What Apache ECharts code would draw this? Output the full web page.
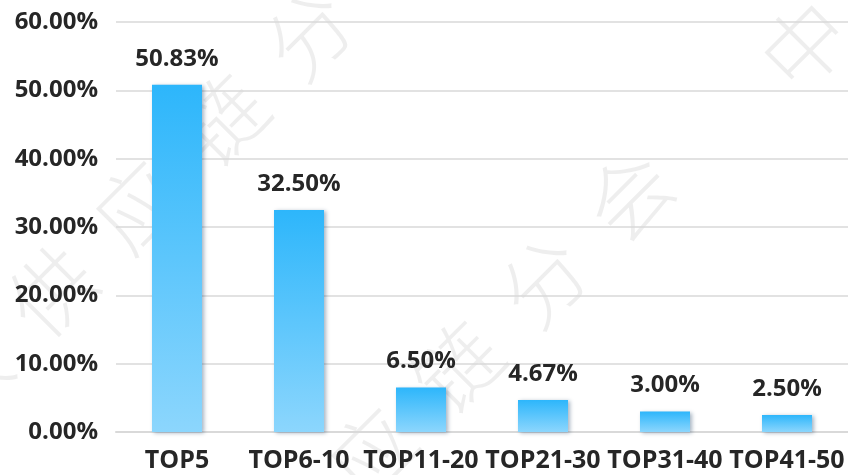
<!DOCTYPE html>
<html>
<head>
<meta charset="utf-8">
<script src="https://cdn.jsdelivr.net/npm/echarts@6/dist/echarts.min.js"></script>
<style>
html,body{margin:0;padding:0;background:#fff;}
#c{width:848px;height:475px;}
</style>
</head>
<body>
<div id="c"></div>
<script>
var categories = ['TOP5', 'TOP6-10', 'TOP11-20', 'TOP21-30', 'TOP31-40', 'TOP41-50'];
var values = [50.83, 32.50, 6.50, 4.67, 3.00, 2.50];
var yTicks = [0, 10, 20, 30, 40, 50, 60];
var watermarkText = '中  物  联  供  应  链  分  会';

var chart = echarts.init(document.getElementById('c'));
var font = '"Open Sans", "Noto Sans", "Noto Sans CJK SC", sans-serif';
var wmStyle = {
  text: watermarkText,
  fill: 'rgba(0,0,0,0.065)',
  font: '300 84px "Noto Sans CJK SC", sans-serif'
};
chart.setOption({
  animation: false,
  backgroundColor: '#fff',
  graphic: [
    {type: 'text', x: -265, y: 548, rotation: Math.PI / 4, z: -10, silent: true, style: wmStyle},
    {type: 'text', x: -30, y: 795, rotation: Math.PI / 4, z: -10, silent: true, style: wmStyle},
    {type: 'text', x: 745, y: 45, rotation: Math.PI / 4, z: -10, silent: true, style: wmStyle}
  ],
  grid: {left: 116, right: 0, top: 22, bottom: 43, containLabel: false},
  xAxis: {
    type: 'category',
    data: categories,
    axisLine: {lineStyle: {color: '#d9d9d9', width: 2}},
    axisTick: {show: false},
    axisLabel: {
      color: '#262626', fontSize: 25, fontWeight: 'bold', fontFamily: font,
      margin: 16, interval: 0
    }
  },
  yAxis: {
    type: 'value',
    min: yTicks[0],
    max: yTicks[yTicks.length - 1],
    interval: 10,
    axisLine: {show: false},
    axisTick: {show: false},
    splitLine: {lineStyle: {color: '#d9d9d9', width: 1.5}},
    axisLabel: {
      color: '#262626', fontSize: 24, fontWeight: 'bold', fontFamily: font,
      margin: 18,
      formatter: function (v) { return v.toFixed(2) + '%'; }
    }
  },
  series: [{
    type: 'bar',
    data: values,
    barWidth: 50,
    itemStyle: {
      color: new echarts.graphic.LinearGradient(0, 0, 0, 1, [
        {offset: 0, color: '#2db6fb'},
        {offset: 1, color: '#8cd6fd'}
      ]),
      shadowColor: 'rgba(0,40,80,0.35)',
      shadowBlur: 4,
      shadowOffsetX: 2,
      shadowOffsetY: 1
    },
    label: {
      show: true,
      position: 'top',
      distance: 14,
      color: '#262626',
      fontSize: 24,
      fontWeight: 'bold',
      fontFamily: font,
      formatter: function (p) { return p.value.toFixed(2) + '%'; }
    }
  }]
});
</script>
</body>
</html>
